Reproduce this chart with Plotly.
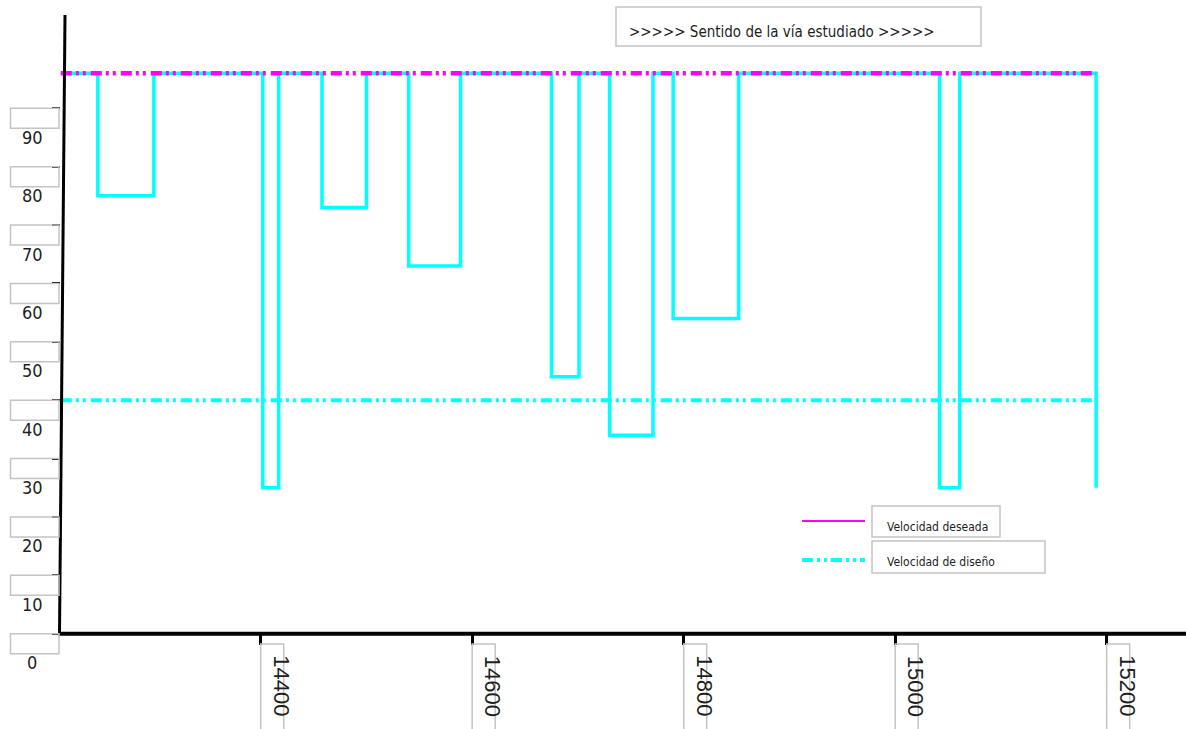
import plotly.graph_objects as go

# Operating-speed profile along the road (chainage in m, speed in km/h)
chainage = [14211, 14246, 14299, 14402, 14417, 14458, 14500, 14540, 14589,
            14675, 14701, 14730, 14771, 14790, 14852, 15042, 15061, 15190]
speed = [96, 75, 96, 25, 96, 73, 96, 63, 96, 44, 96, 34, 96, 54, 96, 25, 96, 25]

# Reference speeds
desired_speed = 96
design_speed = 40
ref_start, ref_end = 14211, 15190

x_ticks = [14400, 14600, 14800, 15000, 15200]
y_ticks = [0, 10, 20, 30, 40, 50, 60, 70, 80, 90]

title_text = ">>>>> Sentido de la vía estudiado >>>>>"
legend_names = ["Velocidad deseada", "Velocidad de diseño"]

W, H = 1186, 729
XMIN, XMAX = 14153.5, 15275.0
YMIN, YMAX = -16.32, 108.55
PX_X = W / (XMAX - XMIN)   # pixels per metre
PX_Y = H / (YMAX - YMIN)   # pixels per km/h

CYAN = "#00FFFF"
MAGENTA = "#FF00FF"
BOX = "#C4C4C4"
TXT = "#1E1E1E"
NARROW = "DejaVu Sans Condensed, Liberation Sans Narrow, sans-serif"
DASH = "11px,4px,3px,4px,3px,5px"


def px(x):
    return x / W


def py(y):
    return 1 - y / H


fig = go.Figure()

fig.add_trace(go.Scatter(
    x=chainage, y=speed, mode="lines", line_shape="hv",
    line=dict(color=CYAN, width=3.5), showlegend=False, hoverinfo="skip"))

fig.add_trace(go.Scatter(
    x=[ref_start, ref_end], y=[design_speed, design_speed], mode="lines",
    line=dict(color=CYAN, width=4, dash=DASH), showlegend=False))

fig.add_trace(go.Scatter(
    x=[ref_start, ref_end], y=[desired_speed, desired_speed], mode="lines",
    line=dict(color=MAGENTA, width=4.5, dash=DASH), showlegend=False))

shapes = []
annotations = []

# Axis lines (vertical one leans slightly)
shapes.append(dict(type="line", xref="x", yref="y", x0=ref_start - 2, x1=XMAX,
                   y0=0, y1=0, line=dict(color="black", width=4)))
shapes.append(dict(type="line", xref="paper", yref="paper",
                   x0=px(59.5), y0=py(635), x1=px(65), y1=py(15),
                   line=dict(color="black", width=3)))

# Boxed y tick labels
for v in y_ticks:
    shapes.append(dict(type="rect", xref="paper", yref="y",
                       x0=px(10.5), x1=px(59), y0=v, y1=v - 20 / PX_Y,
                       line=dict(color=BOX, width=1.5)))
    annotations.append(dict(text=str(v), xref="paper", yref="y", x=px(32), y=v,
                            xanchor="center", yanchor="middle",
                            yshift=-29, showarrow=False,
                            font=dict(family=NARROW, size=18, color=TXT)))

# Boxed, rotated x tick labels
for t in x_ticks:
    shapes.append(dict(type="rect", xref="x", yref="paper",
                       x0=t, x1=t + 23 / PX_X, y0=py(644), y1=py(740),
                       line=dict(color=BOX, width=1.5)))
    annotations.append(dict(text=str(t), xref="x", yref="paper", x=t, xshift=21,
                            y=py(686), xanchor="center", yanchor="middle",
                            showarrow=False, textangle=90,
                            font=dict(family="Liberation Sans, Arial, sans-serif",
                                      size=22, color=TXT)))

# Title box
shapes.append(dict(type="rect", xref="paper", yref="paper",
                   x0=px(616), x1=px(981), y0=py(7), y1=py(46),
                   line=dict(color=BOX, width=1.5)))
annotations.append(dict(text=title_text, xref="paper", yref="paper",
                        x=px(627), y=py(32), xanchor="left", yanchor="middle",
                        showarrow=False,
                        font=dict(family=NARROW, size=15, color=TXT)))

# Legend
legend_rows = [
    dict(color=MAGENTA, width=2, dash="solid", y=521, box=(872, 1000, 506, 537)),
    dict(color=CYAN, width=4, dash="11px,4px,3px,4px,3px,4px", y=560,
         box=(872, 1045, 541, 573)),
]
for name, row in zip(legend_names, legend_rows):
    shapes.append(dict(type="line", xref="paper", yref="paper",
                       x0=px(802), x1=px(865), y0=py(row["y"]), y1=py(row["y"]),
                       line=dict(color=row["color"], width=row["width"],
                                 dash=row["dash"])))
    bx0, bx1, by0, by1 = row["box"]
    shapes.append(dict(type="rect", xref="paper", yref="paper",
                       x0=px(bx0), x1=px(bx1), y0=py(by0), y1=py(by1),
                       line=dict(color=BOX, width=1.5)))
    annotations.append(dict(text=name, xref="paper", yref="paper",
                            x=px(bx0 + 13), y=py((by0 + by1) / 2 + 5),
                            xanchor="left", yanchor="middle", showarrow=False,
                            font=dict(family=NARROW, size=12, color=TXT)))

fig.update_layout(
    width=W, height=H, margin=dict(l=0, r=0, t=0, b=0),
    paper_bgcolor="white", plot_bgcolor="white",
    xaxis=dict(range=[XMIN, XMAX], domain=[0, 1], anchor="free",
               position=-YMIN / (YMAX - YMIN),
               tickvals=x_ticks, ticks="outside", ticklen=10, tickwidth=3,
               tickcolor="black", showticklabels=False, showline=False,
               showgrid=False, zeroline=False),
    yaxis=dict(range=[YMIN, YMAX], domain=[0, 1], anchor="free",
               position=59.5 / W,
               tickvals=y_ticks, ticks="outside", ticklen=8, tickwidth=2,
               tickcolor="black", showticklabels=False, showline=False,
               showgrid=False, zeroline=False),
    shapes=shapes, annotations=annotations, showlegend=False,
)

fig.write_html("out.html")
